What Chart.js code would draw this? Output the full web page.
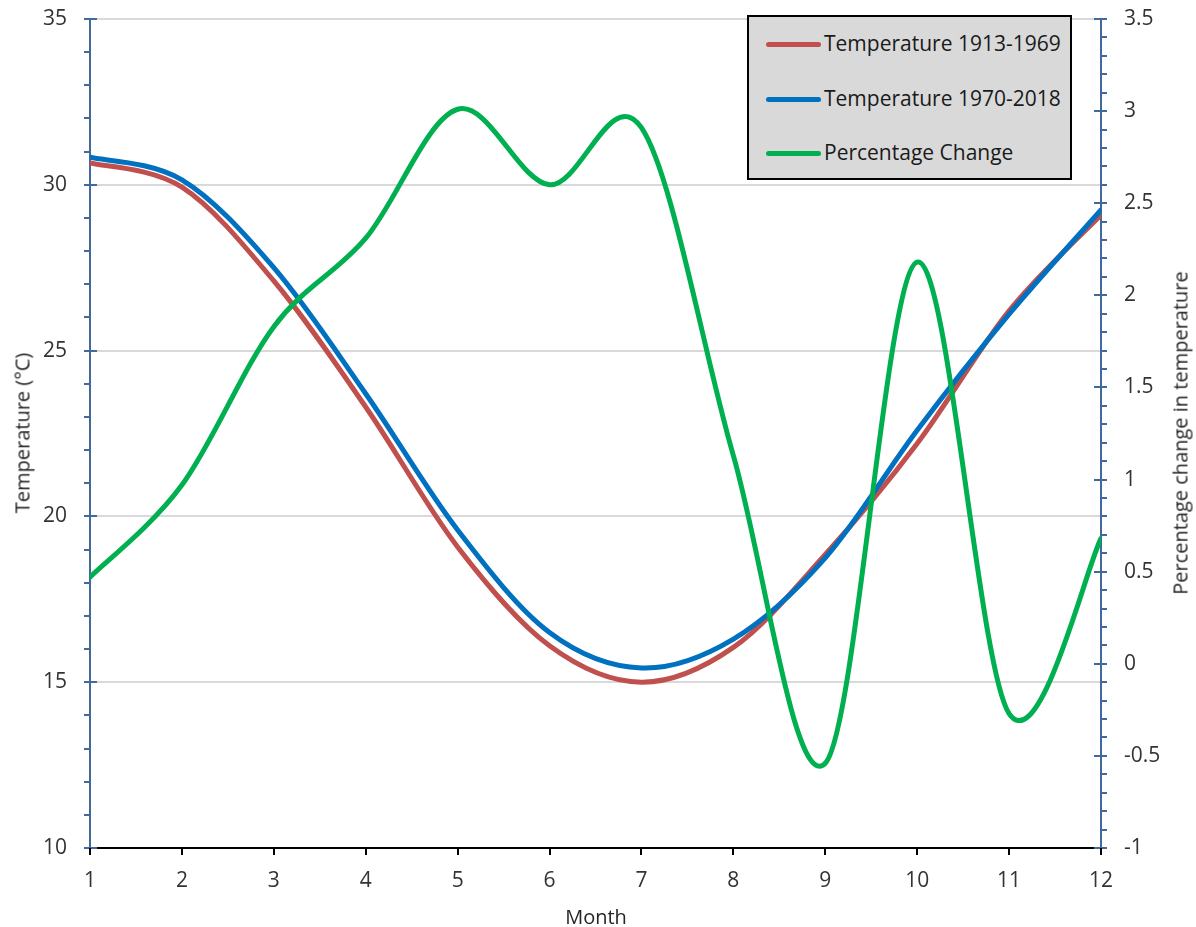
<!DOCTYPE html>
<html>
<head>
<meta charset="utf-8">
<script src="https://cdn.jsdelivr.net/npm/chart.js@4/dist/chart.umd.min.js"></script>
<style>
  html, body { margin: 0; padding: 0; background: #fff; }
  #wrap { position: relative; width: 1196px; height: 927px; font-family: "Open Sans", "Noto Sans", sans-serif; }
  canvas { position: absolute; left: 0; top: 0; }
  .title { position: absolute; color: #262626; font-size: 20px; white-space: nowrap; }
  #legend { position: absolute; left: 747px; top: 15px; width: 321px; height: 161px; background: #d9d9d9; border: 2px solid #000; }
  .li { position: absolute; left: 0; height: 26px; font-size: 21px; color: #1a1a1a; white-space: nowrap; }
  .li span.sw { position: absolute; left: 17px; top: 11px; width: 55px; height: 5px; border-radius: 3px; }
  .li span.tx { position: absolute; left: 75px; top: -2px; }
</style>
</head>
<body>
<div id="wrap">
  <canvas id="c" width="1196" height="927"></canvas>
  <div class="title" style="left:596px; top:903px; transform:translateX(-50%);">Month</div>
  <div class="title" style="left:22px; top:433px; transform:translate(-50%,-50%) rotate(-90deg);">Temperature (°C)</div>
  <div class="title" style="left:1180px; top:433px; transform:translate(-50%,-50%) rotate(-90deg);">Percentage change in temperature</div>
  <div id="legend"></div>
</div>
<script>
const months = [1, 2, 3, 4, 5, 6, 7, 8, 9, 10, 11, 12];
const temp1913_1969 = [30.66, 29.93, 27.1, 23.3, 19.08, 16.1, 15.0, 16.05, 18.85, 22.2, 26.2, 29.09];
const temp1970_2018 = [30.83, 30.15, 27.5, 23.7, 19.59, 16.5, 15.43, 16.3, 18.75, 22.6, 26.1, 29.24];
const pctChange = [0.47, 0.97, 1.83, 2.31, 3.01, 2.60, 2.91, 1.13, -0.54, 2.18, -0.27, 0.68];
const seriesNames = ["Temperature 1913-1969", "Temperature 1970-2018", "Percentage Change"];
const seriesColors = ["#c0504d", "#0070c0", "#00b050"];
const leftTicks = { min: 10, max: 35, step: 5, minor: 1 };
const rightTicks = { min: -1, max: 3.5, step: 0.5, minor: 0.1 };

function pts(vals) { return months.map((m, i) => ({ x: m, y: vals[i] })); }

// legend (HTML)
const lg = document.getElementById('legend');
seriesNames.forEach((n, i) => {
  const d = document.createElement('div');
  d.className = 'li';
  d.style.top = (14 + i * 54.5) + 'px';
  d.innerHTML = '<span class="sw" style="background:' + seriesColors[i] + '"></span><span class="tx">' + n + '</span>';
  lg.appendChild(d);
});

// Excel-like (Catmull-Rom) smoothing: adjust the library's own bezier control points
const smoothPlugin = {
  id: 'catmull',
  beforeDatasetDraw(chart, args) {
    const meta = args.meta;
    const line = meta.dataset;
    if (!line) return;
    line.updateControlPoints(chart.chartArea);
    const p = meta.data;
    const n = p.length;
    for (let i = 0; i < n; i++) {
      const prev = p[Math.max(0, i - 1)], next = p[Math.min(n - 1, i + 1)];
      const tx = (next.x - prev.x) / 6, ty = (next.y - prev.y) / 6;
      p[i].cp1x = p[i].x - tx; p[i].cp1y = p[i].y - ty;
      p[i].cp2x = p[i].x + tx; p[i].cp2y = p[i].y + ty;
    }
    line._path = undefined;
  }
};

const tickPlugin = {
  id: 'tickMarks',
  afterDatasetsDraw(chart) {
    const ctx = chart.ctx;
    const ca = chart.chartArea;
    ctx.save();
    const y = chart.scales.y;
    ctx.strokeStyle = '#41699b';
    ctx.lineWidth = 2;
    for (let k = 0; k <= Math.round((leftTicks.max - leftTicks.min) / leftTicks.minor); k++) {
      const v = leftTicks.min + k * leftTicks.minor;
      const pp = Math.round(y.getPixelForValue(v));
      const major = k % 5 === 0;
      ctx.beginPath();
      ctx.moveTo(ca.left - 6, pp);
      ctx.lineTo(major ? ca.left + 7 : ca.left, pp);
      ctx.stroke();
    }
    const y1 = chart.scales.y1;
    for (let k = 0; k <= Math.round((rightTicks.max - rightTicks.min) / rightTicks.minor); k++) {
      const v = rightTicks.min + k * rightTicks.minor;
      const pp = Math.round(y1.getPixelForValue(v));
      const major = k % 5 === 0;
      ctx.beginPath();
      ctx.moveTo(major ? ca.right - 7 : ca.right, pp);
      ctx.lineTo(ca.right + 6, pp);
      ctx.stroke();
    }
    const x = chart.scales.x;
    ctx.strokeStyle = '#000';
    months.forEach(m => {
      const pp = Math.round(x.getPixelForValue(m));
      ctx.beginPath();
      ctx.moveTo(pp, ca.bottom);
      ctx.lineTo(pp, ca.bottom + 7);
      ctx.stroke();
    });
    ctx.restore();
  }
};

const font = { family: '"Open Sans", "Noto Sans", sans-serif', size: 21 };
const fmt = v => String(+Number(v).toFixed(1));
const noPad = s => { s.paddingTop = 0; s.paddingBottom = 0; s.paddingLeft = 0; s.paddingRight = 0; };

new Chart(document.getElementById('c'), {
  type: 'line',
  data: {
    datasets: [
      { label: seriesNames[0], data: pts(temp1913_1969), yAxisID: 'y', borderColor: seriesColors[0], order: 2 },
      { label: seriesNames[1], data: pts(temp1970_2018), yAxisID: 'y', borderColor: seriesColors[1], order: 1 },
      { label: seriesNames[2], data: pts(pctChange), yAxisID: 'y1', borderColor: seriesColors[2], order: 0 }
    ]
  },
  options: {
    responsive: false,
    animation: false,
    devicePixelRatio: 1,
    layout: { padding: { top: 19, left: 0, right: 0, bottom: 0 } },
    elements: {
      line: { borderWidth: 5, tension: 0.4, capBezierPoints: false, borderCapStyle: 'round', borderJoinStyle: 'round' },
      point: { radius: 0, hoverRadius: 0 }
    },
    plugins: { legend: { display: false }, tooltip: { enabled: false } },
    scales: {
      x: {
        type: 'linear', min: 1, max: 12,
        afterFit: s => { noPad(s); s.height = 79; },
        ticks: { stepSize: 1, color: '#333', font: font, padding: 20, callback: v => String(v) },
        grid: { display: false, drawTicks: false },
        border: { color: '#000', width: 2 }
      },
      y: {
        position: 'left', min: leftTicks.min, max: leftTicks.max,
        afterFit: s => { noPad(s); s.width = 90; },
        ticks: { stepSize: leftTicks.step, color: '#333', font: font, padding: 23, callback: fmt },
        grid: { color: '#d9d9d9', lineWidth: 2, drawTicks: false },
        border: { color: '#41699b', width: 2 }
      },
      y1: {
        position: 'right', min: rightTicks.min, max: rightTicks.max,
        afterFit: s => { noPad(s); s.width = 95; },
        ticks: { stepSize: rightTicks.step, color: '#333', font: font, padding: 23, callback: fmt },
        grid: { display: false, drawTicks: false },
        border: { color: '#41699b', width: 2 }
      }
    }
  },
  plugins: [smoothPlugin, tickPlugin]
});
</script>
</body>
</html>
